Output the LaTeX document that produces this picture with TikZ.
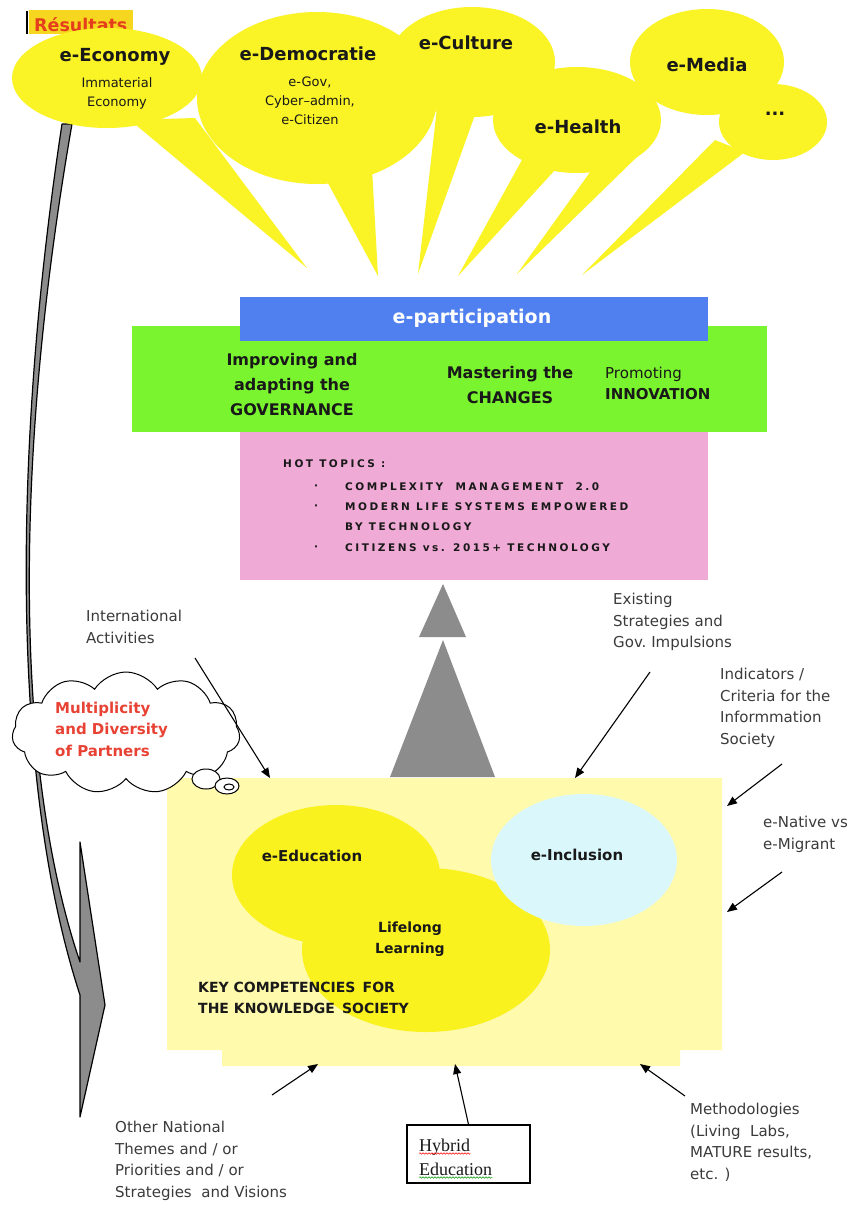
\documentclass[tikz,border=0pt]{standalone}
\usepackage{fontspec}
\setmainfont{DejaVu Sans}
\newfontfamily\hybfont{Liberation Serif}
\newfontfamily\spacedfont{DejaVu Sans}[LetterSpace=24]
\usetikzlibrary{shapes.symbols,arrows.meta,decorations.pathmorphing}

\definecolor{bubble}{RGB}{250,244,38}
\definecolor{resbg}{RGB}{246,214,30}
\definecolor{resred}{RGB}{228,62,28}
\definecolor{partblue}{RGB}{80,128,240}
\definecolor{govgreen}{RGB}{122,244,46}
\definecolor{topicpink}{RGB}{240,170,214}
\definecolor{triangray}{RGB}{140,140,140}
\definecolor{ksbox}{RGB}{255,250,172}
\definecolor{eduyellow}{RGB}{250,242,30}
\definecolor{inclcyan}{RGB}{218,248,252}
\definecolor{cloudred}{RGB}{232,66,52}
\definecolor{ink}{RGB}{25,25,25}

\tikzset{
  title/.style={font=\fontsize{18}{20}\selectfont\bfseries, text=ink, inner sep=0pt},
  sub/.style={font=\fontsize{13}{19}\selectfont, text=ink, align=center, inner sep=0pt},
  govtext/.style={font=\fontsize{16}{25}\selectfont\bfseries, text=ink, align=center, inner sep=0pt},
  topic/.style={font=\spacedfont\fontsize{10.5}{12}\selectfont\bfseries, text=ink, anchor=west, inner sep=0pt},
  ovaltext/.style={font=\fontsize{15}{21}\selectfont\bfseries, text=ink, align=center, inner sep=0pt},
  lbl/.style={font=\fontsize{15}{21.5}\selectfont, text=ink!85, align=left, anchor=north west, inner sep=0pt},
  arr/.style={-{Triangle[length=10pt,width=8pt]}, line width=1.1pt, draw=black},
}

\begin{document}
\begin{tikzpicture}[x=1pt,y=-1pt]
\useasboundingbox (0,0) rectangle (857,1205);
\fill[white] (0,0) rectangle (857,1205);

% ---- curved side arrow (results feed back to the base) ----
\filldraw[fill=triangray, draw=black, line width=1.2pt, line join=round]
  (62,124) .. controls (8,480) and (16,800) .. (80,995)
  -- (80,1117) -- (105,1005) -- (80,842) -- (80,962)
  .. controls (18,780) and (10,480) .. (72,124) -- cycle;

% ---- "Résultats" tag ----
\fill[resbg] (29,10) rectangle (133,34);
\draw[line width=2pt] (27,11) -- (27,34);
\node[font=\fontsize{17.5}{20}\selectfont\bfseries, text=resred, inner sep=0pt, anchor=base west] (res) at (34,31) {Résultats};

% ---- speech bubbles ----
\fill[bubble] (130,120) -- (195,118) -- (307,268) -- cycle;
\fill[bubble] (322,172) -- (372,168) -- (378,276) -- cycle;
\fill[bubble] (437,108) -- (476,112) -- (418,274) -- cycle;
\fill[bubble] (523,158) -- (555,170) -- (458,276) -- cycle;
\fill[bubble] (593,168) -- (642,152) -- (517,274) -- cycle;
\fill[bubble] (715,140) -- (745,152) -- (582,275) -- cycle;

\fill[bubble] (107,78) ellipse [x radius=95pt, y radius=50pt];
\fill[bubble] (317,98) ellipse [x radius=120pt, y radius=86pt];
\fill[bubble] (472,62) ellipse [x radius=83pt, y radius=55pt];
\fill[bubble] (577,120) ellipse [x radius=84pt, y radius=53pt];
\fill[bubble] (707,62) ellipse [x radius=77pt, y radius=53pt];
\fill[bubble] (773,122) ellipse [x radius=54pt, y radius=38pt];

\node[title] (econ) at (115,57) {e-Economy};
\node[sub] (econsub) at (117,93) {Immaterial\\Economy};
\node[title] (demo) at (308,54) {e-Democratie};
\node[sub] (demosub) at (310,101) {e-Gov,\\Cyber–admin,\\e-Citizen};
\node[title] (cult) at (466,43) {e-Culture};
\node[title] (health) at (578,127) {e-Health};
\node[title] (media) at (707,65) {e-Media};
\node[title] (more) at (775,114) {...};

% ---- e-participation block ----
\fill[govgreen] (132,326) rectangle (767,432);
\fill[topicpink] (240,432) rectangle (708,580);
\fill[partblue] (240,297) rectangle (708,341);
\node[font=\fontsize{19}{22}\selectfont\bfseries, text=white, inner sep=0pt] (epart) at (472,318) {e-participation};

\node[govtext] (gov) at (292,385) {Improving and\\adapting the\\GOVERNANCE};
\node[govtext] (chg) at (510,385) {Mastering the\\CHANGES};
\node[font=\fontsize{15}{21}\selectfont, text=ink, align=left, anchor=west, inner sep=0pt] (innov) at (605,383)
  {Promoting\\\textbf{INNOVATION}};

\node[topic] (hot) at (283,464) {HOT TOPICS :};
\node[topic] (b1) at (314,487) {·};
\node[topic] (t1) at (345,487) {COMPLEXITY\ \ MANAGEMENT\ \ 2.0};
\node[topic] (b2) at (314,507) {·};
\node[topic] (t2) at (345,507) {MODERN LIFE SYSTEMS EMPOWERED};
\node[topic] (t2b) at (345,527) {BY TECHNOLOGY};
\node[topic] (b3) at (314,548) {·};
\node[topic] (t3) at (345,548) {CITIZENS vs. 2015+ TECHNOLOGY};

% ---- upward triangles ----
\fill[triangray] (443,584) -- (419,637) -- (466,637) -- cycle;
\fill[triangray] (443,640) -- (390,777) -- (495,777) -- cycle;

% ---- key competencies block ----
\fill[ksbox] (167,778) -- (722,778) -- (722,1050) -- (680,1050) -- (680,1066)
  -- (222,1066) -- (222,1050) -- (167,1050) -- cycle;
\fill[eduyellow] (336,875) ellipse [x radius=104pt, y radius=70pt];
\fill[eduyellow] (426,950) ellipse [x radius=124pt, y radius=82pt];
\fill[inclcyan] (584,860) ellipse [x radius=93pt, y radius=66pt];

\node[ovaltext] (edu) at (312,856) {e-Education};
\node[ovaltext] (incl) at (577,855) {e-Inclusion};
\node[font=\fontsize{14}{21}\selectfont\bfseries, text=ink, align=center, inner sep=0pt] (lll) at (410,939) {Lifelong\\Learning};
\node[font=\fontsize{14}{21}\selectfont\bfseries, text=ink, align=left, anchor=west, inner sep=0pt] (ks) at (198,998)
  {KEY COMPETENCIES\, FOR\\THE KNOWLEDGE\, SOCIETY};

% ---- partners cloud ----
\node[cloud, cloud puffs=11, cloud puff arc=115, cloud ignores aspect, draw=black, fill=white,
      line width=1pt, minimum width=228pt, minimum height=122pt, inner sep=0pt] (cloudbox) at (126,733) {};
\filldraw[fill=white, draw=black, line width=1pt] (206,779) ellipse [x radius=14pt, y radius=10pt];
\filldraw[fill=white, draw=black, line width=1pt] (227,786) ellipse [x radius=12pt, y radius=8pt];
\draw[line width=1pt] (229,787) ellipse [x radius=5pt, y radius=3pt];
\node[font=\fontsize{15}{21.5}\selectfont\bfseries, text=cloudred, align=left, anchor=west, inner sep=0pt] (partners) at (55,729)
  {Multiplicity\\and Diversity\\of Partners};

% ---- surrounding influences ----
\node[lbl] (intl) at (86,610) {International\\Activities};
\node[lbl] (strat) at (613,593) {Existing\\Strategies and\\Gov.\ Impulsions};
\node[lbl] (indic) at (720,668) {Indicators /\\Criteria for the\\Informmation\\Society};
\node[lbl] (native) at (763,816) {e-Native vs\\e-Migrant};
\node[lbl] (natl) at (115,1121) {Other National\\Themes and / or\\Priorities and / or\\Strategies\ \ and Visions};
\node[lbl] (meth) at (690,1103) {Methodologies\\(Living\ \ Labs,\\MATURE results,\\etc. )};

\node[draw=black, line width=1.2pt, minimum width=123pt, minimum height=58pt, inner sep=0pt] (hybbox) at (468.5,1154) {};
\node[font=\hybfont\fontsize{18}{24}\selectfont, text=ink, anchor=base west, inner sep=0pt] (hyb) at (419,1151) {Hybrid};
\node[font=\hybfont\fontsize{18}{24}\selectfont, text=ink, anchor=base west, inner sep=0pt] (educ) at (419,1175) {Education};
\draw[red, line width=0.5pt, decorate, decoration={snake, amplitude=0.8pt, segment length=3pt}]
  ([yshift=-2.5pt]hyb.base west) -- ([yshift=-2.5pt]hyb.base east);
\draw[green!60!black, line width=0.5pt, decorate, decoration={snake, amplitude=0.8pt, segment length=3pt}]
  ([yshift=-2.5pt]educ.base west) -- ([yshift=-2.5pt]educ.base east);

% arrow end points
\coordinate (intlA) at (195,658);  \coordinate (intlB) at (270,778);
\coordinate (stratA) at (650,672); \coordinate (stratB) at (575,778);
\coordinate (indicA) at (782,764); \coordinate (indicB) at (727,806);
\coordinate (nativeA) at (782,872); \coordinate (nativeB) at (727,912);
\coordinate (natlA) at (272,1095); \coordinate (natlB) at (318,1064);
\coordinate (hybB) at (455,1064);
\coordinate (methA) at (685,1096); \coordinate (methB) at (640,1064);

\draw[arr] (intlA) -- (intlB);
\draw[arr] (stratA) -- (stratB);
\draw[arr] (indicA) -- (indicB);
\draw[arr] (nativeA) -- (nativeB);
\draw[arr] (natlA) -- (natlB);
\draw[arr] (hybbox.north) -- (hybB);
\draw[arr] (methA) -- (methB);
\end{tikzpicture}
\end{document}
